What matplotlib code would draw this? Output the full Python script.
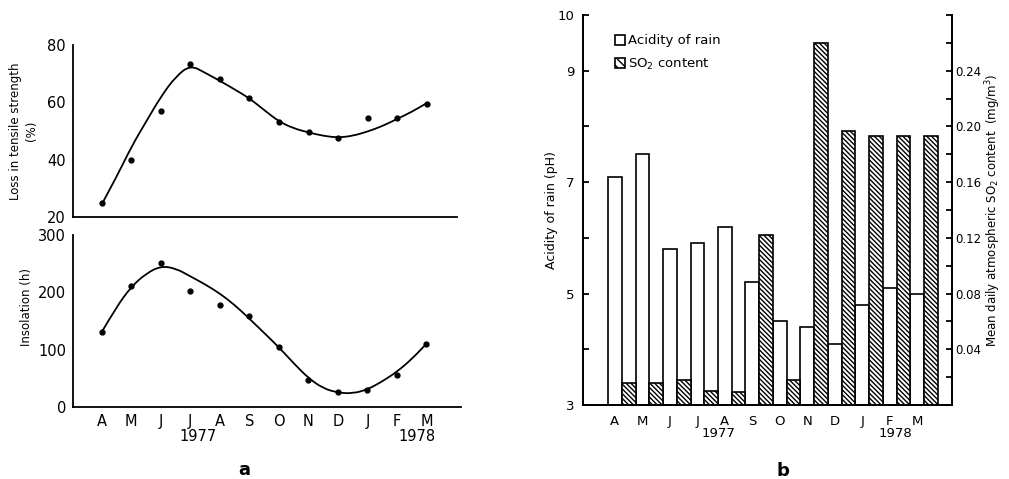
import matplotlib.pyplot as plt
import matplotlib.transforms as mtransforms
from matplotlib.patches import Patch, PathPatch
from matplotlib.path import Path
import numpy as np

plt.rcParams['font.family'] = ['DejaVu Sans']

# месяцы апрель 1977 - март 1978
months = ['A', 'M', 'J', 'J', 'A', 'S', 'O', 'N', 'D', 'J', 'F', 'M']

# панель a: измеренные точки
loss = [25, 40, 57, 73.5, 68, 61.5, 53, 49.5, 47.5, 54.5, 54.5, 59.5]
insolation = [131, 211, 252, 202, 178, 158, 105, 47, 25, 29, 55, 110]
curve_step = 0.5
loss_curve = [24.5, 34, 44.5, 53.3, 62, 69, 73, 70.3, 67.5, 64.5, 61.4, 57.3,
              53.3, 50.9, 49.5, 48.3, 47.7, 48.3, 49.8, 51.7, 54.2, 56.7, 59.7]
ins_curve = [131, 175, 210, 233, 246, 242, 228, 214, 198, 178, 154, 129,
             104, 76, 50, 32, 24.5, 23, 30, 44, 61, 83, 110]

# панель b: кислотность дождя и SO2
ph = [7.1, 7.5, 5.8, 5.9, 6.2, 5.2, 4.5, 4.4, 4.1, 4.8, 5.1, 5.0]
so2 = [0.016, 0.016, 0.018, 0.010, 0.009, 0.122, 0.018, 0.260, 0.197, 0.193, 0.193, 0.193]
ph_ticks = [3, 4, 5, 6, 7, 8, 9, 10]
ph_ticklabels = ['3', '', '5', '', '7', '', '9', '10']
so2_ticks = [0, 0.02, 0.04, 0.06, 0.08, 0.10, 0.12, 0.14, 0.16, 0.18, 0.20, 0.22, 0.24, 0.26, 0.28]
so2_ticklabels = ['', '', '0.04', '', '0.08', '', '0.12', '', '0.16', '', '0.20', '', '0.24', '', '']

x = np.arange(len(months))
xc = np.arange(len(loss_curve)) * curve_step
lw = 1.3


def smooth_line(ax, xs, ys):
    # квадратичные кривые Безье через середины отрезков
    pts = list(zip(xs, ys))
    verts = [pts[0]]
    codes = [Path.MOVETO]
    for i in range(1, len(pts) - 1):
        mid = ((pts[i][0] + pts[i + 1][0]) / 2, (pts[i][1] + pts[i + 1][1]) / 2)
        verts += [pts[i], mid]
        codes += [Path.CURVE3, Path.CURVE3]
    verts.append(pts[-1])
    codes.append(Path.LINETO)
    ax.add_patch(PathPatch(Path(verts, codes), fill=False, color='black', lw=1.3))


fig = plt.figure(figsize=(10.09, 4.79), dpi=100)

# ---- панель a, верх ----
ax1 = fig.add_axes([0.0723, 0.547, 0.3806, 0.359])
smooth_line(ax1, xc, loss_curve)
ax1.plot(x, loss, 'o', color='black', ms=3.5)
ax1.set_xlim(-0.98, 12.03)
ax1.set_ylim(20, 80)
ax1.set_yticks([20, 40, 60, 80])
ax1.set_xticks([])
ax1.tick_params(axis='y', length=0, pad=5, labelsize=10.5)
for s in ['top', 'right']:
    ax1.spines[s].set_visible(False)
for s in ['left', 'bottom']:
    ax1.spines[s].set_linewidth(lw)
ax1.set_ylabel('Loss in tensile strength\n(%)', fontsize=8.5, linespacing=1.3)
ax1.yaxis.set_label_coords(-0.09, 0.5)

# ---- панель a, низ ----
ax3 = fig.add_axes([0.0723, 0.151, 0.3845, 0.358])
smooth_line(ax3, xc, ins_curve)
ax3.plot(x, insolation, 'o', color='black', ms=3.5)
ax3.set_xlim(-0.98, 12.17)
ax3.set_ylim(0, 300)
ax3.set_yticks([0, 100, 200, 300])
ax3.set_xticks(x)
ax3.set_xticklabels(months)
ax3.tick_params(axis='both', length=0, pad=5, labelsize=10.5)
for s in ['top', 'right']:
    ax3.spines[s].set_visible(False)
for s in ['left', 'bottom']:
    ax3.spines[s].set_linewidth(lw)
ax3.set_ylabel('Insolation (h)', fontsize=8.5)
ax3.yaxis.set_label_coords(-0.103, 0.58)
tr3 = mtransforms.blended_transform_factory(ax3.transData, ax3.transAxes)
ax3.text(3.25, -0.175, '1977', transform=tr3, ha='center', va='center', fontsize=10.5)
ax3.text(10.67, -0.175, '1978', transform=tr3, ha='center', va='center', fontsize=10.5)

# ---- панель b ----
ax = fig.add_axes([0.578, 0.1545, 0.366, 0.8142])
ax2 = ax.twinx()
ax.bar(x, np.array(ph) - 3, bottom=3, width=0.5, facecolor='white',
       edgecolor='black', lw=1.2)
ax2.bar(x + 0.5, so2, width=0.5, facecolor='white', edgecolor='black',
        lw=1.2, hatch='\\' * 7)
ax.set_xlim(-1.153, 12.28)
ax.set_ylim(3, 10)
ax2.set_ylim(0, 0.28)
ax.set_yticks(ph_ticks)
ax.set_yticklabels(ph_ticklabels)
ax2.set_yticks(so2_ticks)
ax2.set_yticklabels(so2_ticklabels)
ax.set_xticks(x)
ax.set_xticklabels(months)
ax.tick_params(axis='x', length=0, pad=7, labelsize=9.5)
ax.tick_params(axis='y', direction='in', length=4, width=lw, pad=6, labelsize=9.5)
ax2.tick_params(axis='y', direction='in', length=4, width=lw, pad=2, labelsize=8.5)
for a in (ax, ax2):
    a.spines['top'].set_visible(False)
    for s in ['left', 'right', 'bottom']:
        a.spines[s].set_linewidth(lw)
ax.set_ylabel('Acidity of rain (pH)', fontsize=9)
ax.yaxis.set_label_coords(-0.068, 0.5)
ax2.set_ylabel('Mean daily atmospheric SO$_2$ content  (mg/m$^3$)', fontsize=8.5)
ax2.yaxis.set_label_coords(1.085, 0.5)

trb = mtransforms.blended_transform_factory(ax.transData, ax.transAxes)
ax.text(3.78, -0.074, '1977', transform=trb, ha='center', va='center', fontsize=9.5)
ax.text(10.22, -0.074, '1978', transform=trb, ha='center', va='center', fontsize=9.5)

handles = [Patch(facecolor='white', edgecolor='black', lw=1.2),
           Patch(facecolor='white', edgecolor='black', lw=1.2, hatch='\\' * 4)]
ax2.legend(handles, ['Acidity of rain', 'SO$_2$ content'], loc='upper left',
           bbox_to_anchor=(0.085, 0.95), frameon=False, fontsize=9.5,
           handlelength=0.8, handleheight=0.8, handletextpad=0.2,
           labelspacing=0.7, borderpad=0, borderaxespad=0)

fig.text(244 / 1009, 1 - 470 / 479, 'a', ha='center', va='center', fontsize=13, fontweight='bold')
fig.text(783 / 1009, 1 - 471 / 479, 'b', ha='center', va='center', fontsize=13, fontweight='bold')

fig.savefig('out.png', dpi=100)
